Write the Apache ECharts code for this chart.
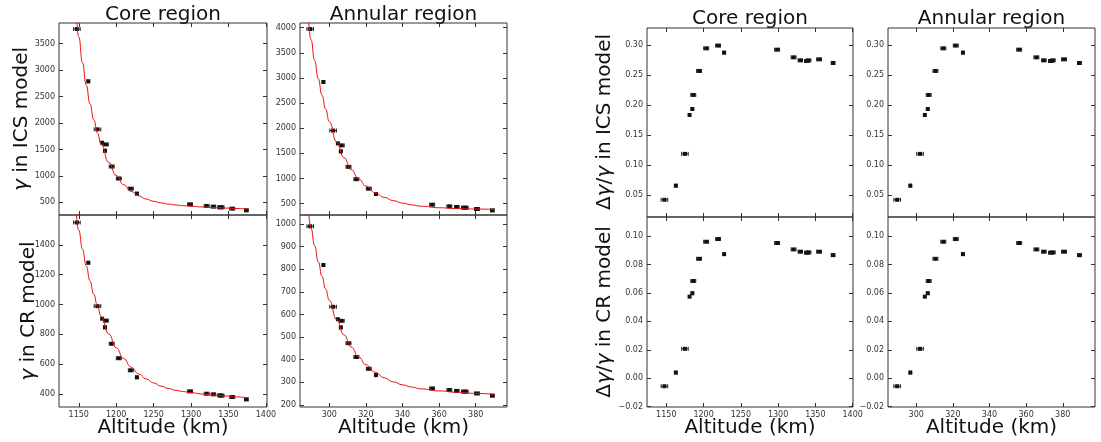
<!DOCTYPE html>
<html><head><meta charset="utf-8">
<script src="https://cdn.jsdelivr.net/npm/echarts@6/dist/echarts.min.js"></script>
<style>html,body{margin:0;padding:0;background:#fff}#c{width:1101px;height:442px}</style>
</head><body><div id="c"></div>
<script>
// ---------- data ----------
const coreAlt = [1147.5, 1162.8, 1175, 1181.2, 1185, 1186.2, 1194, 1203.5, 1219.5, 1227.6, 1298.7, 1320.8, 1329.8, 1338.5, 1341, 1355, 1373.8];
const coreErr = [4.4, 1.5, 4.4, 0, 1.5, 3.3, 3.3, 3.3, 3.3, 1.5, 3.3, 3.3, 3, 3, 3, 3.3, 2.5];
const annAlt  = [289.6, 296.8, 302.1, 304.7, 306.3, 306.8, 310.5, 314.8, 321.6, 325.5, 356.2, 365.6, 369.7, 373.5, 374.6, 380.7, 389.1];
const annErr  = [1.8, 0.6, 1.8, 0, 0.6, 1.35, 1.35, 1.35, 1.35, 0.6, 1.35, 1.35, 1.25, 1.25, 1.25, 1.35, 1.0];

const gammaIcsCore = [3777, 2788, 1880, 1626, 1475, 1595, 1177, 950, 758, 664, 462, 431, 418, 406, 406, 380, 349];
const gammaIcsAnn  = [3973, 2920, 1954, 1699, 1540, 1659, 1232, 987, 798, 692, 480, 447, 434, 420, 420, 394, 367];
const gammaCrCore  = [1550, 1280, 989, 905, 847, 892, 737, 640, 559, 512, 418, 402, 398, 391, 389, 380, 364];
const gammaCrAnn   = [990, 819, 634, 579, 543, 572, 473, 412, 360, 332, 273, 266, 262, 259, 259, 251, 241];
const relIcsCore = [0.042, 0.0655, 0.1185, 0.1833, 0.1933, 0.2167, 0.2567, 0.2944, 0.299, 0.2872, 0.2922, 0.2794, 0.2744, 0.2733, 0.2744, 0.2761, 0.270];
const relIcsAnn  = [0.042, 0.0655, 0.1185, 0.1833, 0.1933, 0.2167, 0.2567, 0.2944, 0.299, 0.2872, 0.2922, 0.2794, 0.2744, 0.2733, 0.2744, 0.2761, 0.270];
const relCrCore  = [-0.0056, 0.004, 0.0207, 0.0574, 0.0598, 0.0684, 0.084, 0.096, 0.0979, 0.0873, 0.0951, 0.0906, 0.089, 0.0883, 0.0885, 0.089, 0.0866];
const relCrAnn   = [-0.0056, 0.004, 0.0207, 0.0574, 0.0598, 0.0684, 0.084, 0.096, 0.0979, 0.0873, 0.0951, 0.0906, 0.089, 0.0883, 0.0885, 0.089, 0.0866];

// fitted curves
const fitCoreAlt   = [1140, 1145, 1150, 1155, 1160, 1165, 1170, 1175, 1180, 1190, 1200, 1210, 1220, 1230, 1240, 1250, 1260, 1270, 1280, 1290, 1300, 1315, 1330, 1345, 1360, 1376];
const fitIcsCore   = [4897, 4211, 3630, 3136, 2717, 2363, 2062, 1807, 1590, 1252, 1008, 833, 707, 622, 562, 519, 489, 466, 449, 436, 425, 412, 401, 392, 383, 372];
const fitCrCore    = [1804, 1642, 1498, 1371, 1258, 1158, 1069, 989, 919, 802, 710, 637, 580, 535, 501, 474, 453, 437, 424, 416, 409, 400, 393, 387, 381, 374];
const fitAnnAlt    = [286, 288, 290, 292, 294, 296, 298, 300, 304, 308, 312, 316, 320, 325, 330, 335, 340, 345, 350, 360, 370, 380, 390.5];
const fitIcsAnn    = [4789, 4244, 3767, 3349, 2983, 2661, 2380, 2133, 1727, 1416, 1177, 993, 852, 720, 626, 560, 512, 476, 450, 419, 403, 394, 385];
const fitCrAnn     = [1172, 1073, 983, 904, 833, 769, 713, 663, 577, 510, 456, 413, 378, 345, 320, 302, 289, 279, 271, 262, 256, 251, 247];

// tick values
const coreXTicks = [1150, 1200, 1250, 1300, 1350, 1400];
const annXTicks  = [300, 320, 340, 360, 380];
const icsCoreTicks = [500, 1000, 1500, 2000, 2500, 3000, 3500];
const icsAnnTicks  = [500, 1000, 1500, 2000, 2500, 3000, 3500, 4000];
const crCoreTicks  = [400, 600, 800, 1000, 1200, 1400];
const crAnnTicks   = [200, 300, 400, 500, 600, 700, 800, 900, 1000];
const relIcsTicks  = [0.05, 0.10, 0.15, 0.20, 0.25, 0.30];
const relCrTicks   = [-0.02, 0.00, 0.02, 0.04, 0.06, 0.08, 0.10];

const titles = ['Core region', 'Annular region'];
const xName = 'Altitude (km)';

// ---------- layout ----------
const FONT = 'DejaVu Sans';
const TICKC = '#333';
const panels = [
  {grid:{left:59, top:23, width:208, height:192}, x:[1123.6,1401.4], y:[260,3891], xt:coreXTicks, yt:icsCoreTicks, xl:false, fmt:v=>String(v)},
  {grid:{left:300, top:23, width:207, height:192}, x:[284.0,397.1], y:[275,4093], xt:annXTicks, yt:icsAnnTicks, xl:false, fmt:v=>String(v)},
  {grid:{left:59, top:215, width:208, height:192}, x:[1123.6,1401.4], y:[313,1600], xt:coreXTicks, yt:crCoreTicks, xl:true, fmt:v=>String(v)},
  {grid:{left:300, top:215, width:207, height:192}, x:[284.0,397.1], y:[191,1040], xt:annXTicks, yt:crAnnTicks, xl:true, fmt:v=>String(v)},
  {grid:{left:647, top:28, width:206, height:189}, x:[1124.1,1400.5], y:[0.0133,0.3283], xt:coreXTicks, yt:relIcsTicks, xl:false, fmt:v=>v.toFixed(2)},
  {grid:{left:888, top:28, width:207, height:189}, x:[284.6,397.6], y:[0.0133,0.3283], xt:annXTicks, yt:relIcsTicks, xl:false, fmt:v=>v.toFixed(2)},
  {grid:{left:647, top:217, width:206, height:190}, x:[1124.1,1400.5], y:[-0.0202,0.1134], xt:coreXTicks, yt:relCrTicks, xl:true, fmt:v=>v.toFixed(2).replace('-', '\u2212')},
  {grid:{left:888, top:217, width:207, height:190}, x:[284.6,397.6], y:[-0.0202,0.1134], xt:annXTicks, yt:relCrTicks, xl:true, fmt:v=>v.toFixed(2).replace('-', '\u2212')}
];

const grid = [], xAxis = [], yAxis = [];
panels.forEach((p, i) => {
  grid.push(Object.assign({show:true, borderColor:'#333', borderWidth:1, backgroundColor:'transparent'}, p.grid));
  const tick = vals => ({show:true, inside:true, length:4, customValues:vals, lineStyle:{color:TICKC, width:1}});
  const lab = (show, vals, fmt) => ({show, customValues:vals, margin:4, fontSize:8, color:TICKC, fontFamily:FONT, formatter:fmt});
  const al = {show:false, onZero:false};
  xAxis.push({type:'value', gridIndex:i, position:'bottom', min:p.x[0], max:p.x[1], axisLine:al, splitLine:{show:false}, axisTick:tick(p.xt), axisLabel:lab(p.xl, p.xt, v=>String(v))});
  xAxis.push({type:'value', gridIndex:i, position:'top', min:p.x[0], max:p.x[1], axisLine:al, splitLine:{show:false}, axisTick:tick(p.xt), axisLabel:{show:false}});
  yAxis.push({type:'value', gridIndex:i, position:'left', min:p.y[0], max:p.y[1], axisLine:al, splitLine:{show:false}, axisTick:tick(p.yt), axisLabel:lab(true, p.yt, p.fmt)});
  yAxis.push({type:'value', gridIndex:i, position:'right', min:p.y[0], max:p.y[1], axisLine:al, splitLine:{show:false}, axisTick:tick(p.yt), axisLabel:{show:false}});
});

function renderErr(params, api) {
  const x = api.value(0), y = api.value(1), e = api.value(2);
  const c = api.coord([x, y]);
  const ch = [];
  if (e > 0) {
    const l = api.coord([x - e, y])[0], r = api.coord([x + e, y])[0];
    const st = {stroke:'#222', lineWidth:1};
    ch.push({type:'line', shape:{x1:l, y1:c[1], x2:r, y2:c[1]}, style:st});
    ch.push({type:'line', shape:{x1:l, y1:c[1]-2, x2:l, y2:c[1]+2}, style:st});
    ch.push({type:'line', shape:{x1:r, y1:c[1]-2, x2:r, y2:c[1]+2}, style:st});
  }
  ch.push({type:'rect', shape:{x:c[0]-2, y:c[1]-2, width:4, height:4}, style:{fill:'#111'}});
  return {type:'group', children:ch};
}

const pts = (alt, val, err) => alt.map((a, i) => [a, val[i], err[i]]);
const line = (xs, ys) => xs.map((x, i) => [x, ys[i]]);
const seriesSpec = [
  [pts(coreAlt, gammaIcsCore, coreErr), line(fitCoreAlt, fitIcsCore)],
  [pts(annAlt, gammaIcsAnn, annErr), line(fitAnnAlt, fitIcsAnn)],
  [pts(coreAlt, gammaCrCore, coreErr), line(fitCoreAlt, fitCrCore)],
  [pts(annAlt, gammaCrAnn, annErr), line(fitAnnAlt, fitCrAnn)],
  [pts(coreAlt, relIcsCore, coreErr), null],
  [pts(annAlt, relIcsAnn, annErr), null],
  [pts(coreAlt, relCrCore, coreErr), null],
  [pts(annAlt, relCrAnn, annErr), null]
];
const series = [];
seriesSpec.forEach((s, i) => {
  if (s[1]) series.push({type:'line', xAxisIndex:2*i, yAxisIndex:2*i, data:s[1], smooth:0.5, smoothMonotone:'x', showSymbol:false, clip:true, silent:true, lineStyle:{color:'#ee1111', width:1}});
  series.push({type:'custom', xAxisIndex:2*i, yAxisIndex:2*i, data:s[0], renderItem:renderErr, encode:{x:0, y:1}, clip:true, silent:true});
});

const rich = {g:{fontStyle:'italic', fontSize:20, fontFamily:FONT, fill:'#111'}};
const txt = (x, y, text, rot) => ({type:'text', x, y, rotation:rot||0, style:{text, fontSize:20, fontFamily:FONT, fill:'#111', align:'center', verticalAlign:'middle', rich}});
const graphic = [
  txt(163, 14.5, titles[0]), txt(403.5, 14.5, titles[1]),
  txt(750, 19, titles[0]), txt(991.5, 19, titles[1]),
  txt(163, 428, xName), txt(403.5, 428, xName), txt(750, 428, xName), txt(991.5, 428, xName),
  txt(22, 119, '{g|γ} in ICS model', Math.PI/2),
  txt(29, 311, '{g|γ} in CR model', Math.PI/2),
  txt(604.5, 122, 'Δ{g|γ}/{g|γ} in ICS model', Math.PI/2),
  txt(604.5, 312, 'Δ{g|γ}/{g|γ} in CR model', Math.PI/2)
];

const chart = echarts.init(document.getElementById('c'), null, {renderer:'canvas'});
chart.setOption({animation:false, backgroundColor:'#fff', grid, xAxis, yAxis, series, graphic});
</script></body></html>
